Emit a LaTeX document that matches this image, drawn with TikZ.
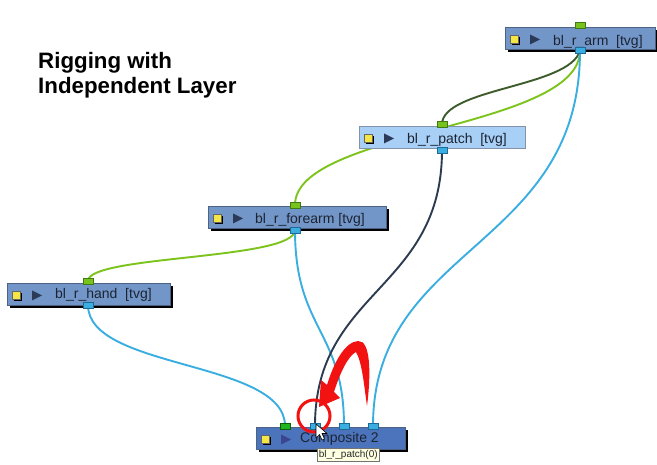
\documentclass[tikz,border=0pt]{standalone}
\usepackage{fontspec}
\setmainfont{Liberation Sans}
\usetikzlibrary{backgrounds,shadows}
\definecolor{nodefill}{HTML}{7396C8}
\definecolor{patchfill}{HTML}{A8CFF6}
\definecolor{compfill}{HTML}{4C74BC}
\definecolor{nodeedge}{HTML}{4E6384}
\definecolor{portgreen}{HTML}{78C21E}
\definecolor{portgreenedge}{HTML}{3F7A12}
\definecolor{compgreen}{HTML}{1FB51F}
\definecolor{compgreenedge}{HTML}{0E5E0E}
\definecolor{portblue}{HTML}{3AAEE0}
\definecolor{portblueedge}{HTML}{1E6A96}
\definecolor{wireblue}{HTML}{3AAEE0}
\definecolor{wiregreen}{HTML}{7CC41C}
\definecolor{wiredkgreen}{HTML}{3E5B2C}
\definecolor{wirenavy}{HTML}{2C3B50}
\definecolor{iconyellow}{HTML}{F6E645}
\definecolor{playtri}{HTML}{2B3A58}
\definecolor{compplay}{HTML}{3C4590}
\definecolor{labeltext}{HTML}{1C2433}
\definecolor{tipfill}{HTML}{FFFFE1}
\definecolor{redmark}{HTML}{F21212}
\newcommand{\nodeicons}[4]{% name, left x, top y, triangle colour
  \node[yicon] (#1-icon) at (#2+9,#3+12) {};
  \fill[#4] (#2+25,#3+7.5) -- (#2+35,#3+12.5) -- (#2+25,#3+17.5) -- cycle;
}
\begin{document}
\begin{tikzpicture}[x=1pt,y=-1pt,
  nodebox/.style={rectangle, anchor=north west, draw=nodeedge, line width=0.7pt, fill=nodefill,
    minimum height=22pt, inner sep=0pt,
    drop shadow={shadow xshift=3pt, shadow yshift=-3pt, fill=black, opacity=1}},
  patchbox/.style={rectangle, anchor=north west, draw=nodeedge!70, line width=0.7pt, fill=patchfill,
    minimum height=22pt, inner sep=0pt},
  inport/.style={rectangle, draw=portgreenedge, fill=portgreen, minimum width=10pt,
    minimum height=6pt, inner sep=0pt, line width=0.6pt},
  outport/.style={inport, draw=portblueedge, fill=portblue},
  yicon/.style={rectangle, fill=iconyellow, draw=black!60, line width=0.4pt, minimum size=8pt,
    inner sep=0pt, drop shadow={shadow xshift=2pt, shadow yshift=-2pt, fill=black, opacity=1}},
  lbl/.style={anchor=base west, inner sep=0pt, font=\fontsize{14}{16}\selectfont, text=labeltext},
  wire/.style={line width=1.9pt, line cap=round},
  titletext/.style={anchor=base west, inner sep=0pt, font=\bfseries\fontsize{22.3}{24}\selectfont, text=black},
  tipbox/.style={rectangle, anchor=north west, draw=black!55, line width=0.5pt, fill=tipfill,
    inner xsep=2pt, inner ysep=1.8pt, font=\fontsize{10}{11}\selectfont, text=black!85},
]
\useasboundingbox (0,0) rectangle (657,465);

% title
\node[titletext] (t1) at (38,69) {Rigging with};
\node[titletext] (t2) at (38,94) {Independent Layer};

% node boxes
\node[nodebox, minimum width=150pt] (arm) at (505,27) {};
\node[patchbox, minimum width=166pt] (patch) at (359,126) {};
\node[nodebox, minimum width=178pt] (forearm) at (208,206) {};
\node[nodebox, minimum width=163pt] (hand) at (7,283) {};
\node[nodebox, fill=compfill, minimum width=149pt] (comp) at (256,427) {};

% icons
\nodeicons{arm}{505}{27}{playtri}
\nodeicons{patch}{359}{126}{playtri}
\nodeicons{forearm}{208}{206}{playtri}
\nodeicons{hand}{7}{283}{playtri}
\nodeicons{comp}{256}{427}{compplay}

% labels
\node[lbl] (arm-t) at (553,45.5) {bl\_r\_arm\ \ [tvg]};
\node[lbl] (patch-t) at (407,143.5) {bl\_r\_patch\ \ [tvg]};
\node[lbl] (forearm-t) at (255,224) {bl\_r\_forearm [tvg]};
\node[lbl] (hand-t) at (55,299) {bl\_r\_hand\ \ [tvg]};
\node[lbl] (comp-t) at (300,443) {Composite 2};

% ports
\node[inport] (arm-in) at (580,25) {};
\node[outport] (arm-out) at (580,50.5) {};
\node[inport] (patch-in) at (442,124.5) {};
\node[outport] (patch-out) at (442,150) {};
\node[inport] (forearm-in) at (295,205) {};
\node[outport] (forearm-out) at (295,230) {};
\node[inport] (hand-in) at (88,281) {};
\node[outport] (hand-out) at (88,305) {};
\node[inport, fill=compgreen, draw=compgreenedge] (comp-in1) at (285,426) {};
\node[outport] (comp-in2) at (315,426) {};
\node[outport] (comp-in3) at (344,426) {};
\node[outport] (comp-in4) at (373,426) {};

% connectors
\begin{pgfonlayer}{background}
\fill[white] (0,0) rectangle (657,465);
\draw[wire, wiredkgreen] (arm-out.center) .. controls +(-10,37) and +(0,-36.5) .. (patch-in.center);
\draw[wire, wiregreen] (arm-out.center) .. controls +(0,79) and +(0,-75) .. (forearm-in.center);
\draw[wire, wiregreen] (forearm-out.center) .. controls +(0,30) and +(0,-26) .. (hand-in.center);
\draw[wire, wireblue] (hand-out.center) .. controls +(0,65) and +(0,-66) .. (comp-in1.center);
\draw[wire, wireblue] (forearm-out.center) .. controls +(0,100) and +(0,-96) .. (comp-in3.center);
\draw[wire, wirenavy] (patch-out.center) .. controls +(0,140) and +(0,-136) .. (comp-in2.center);
\draw[wire, wireblue] (arm-out.center) .. controls +(0,199) and +(0,-181) .. (comp-in4.center);
\end{pgfonlayer}

% red annotation
\node[circle, draw=redmark, line width=3pt, minimum size=32pt, inner sep=0pt] (mark) at (314,416) {};
\fill[redmark] (367,406) .. controls (371,375) and (371,340) .. (358,341)
  .. controls (345,342) and (334,362) .. (327,385) -- (321,380) -- (319,407) -- (340,398) -- (334,392)
  .. controls (340,373) and (348,356) .. (356,352)
  .. controls (362,362) and (364,385) .. (367,406) -- cycle;

% tooltip
\node[tipbox] (tip) at (316.5,448) {bl\_r\_patch(0)};

% mouse cursor
\filldraw[fill=white, draw=black, line width=0.6pt, line join=round]
  (316,424) -- (316,438) -- (319.5,434.5) -- (322,440) -- (324.5,439) -- (322,433.5) -- (327,433.5) -- cycle;
\end{tikzpicture}
\end{document}
